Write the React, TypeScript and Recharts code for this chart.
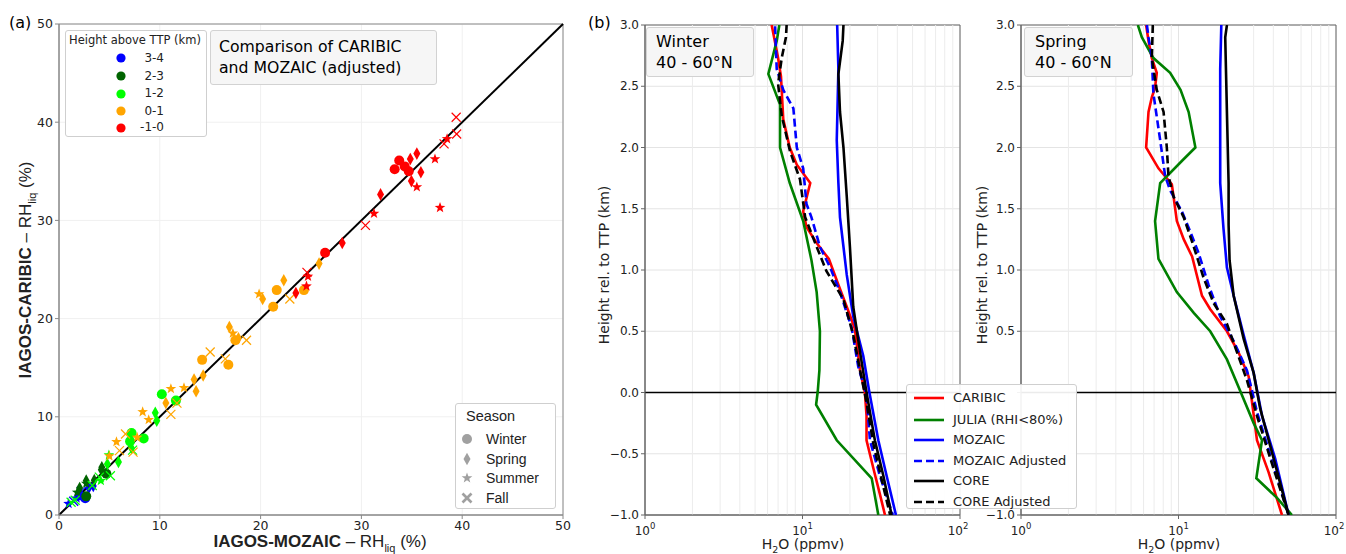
import React from "react";
import {
  ScatterChart,
  Scatter,
  XAxis,
  YAxis,
  CartesianGrid,
  ReferenceLine,
  ReferenceArea,
} from "recharts";

const SANS = "'DejaVu Sans', sans-serif";
const ARIAL = "'Liberation Sans', Arial, sans-serif";

// ---------- panel (a): CARIBIC vs MOZAIC RH_liq ----------
const heightClasses = ["3-4", "2-3", "1-2", "0-1", "-1-0"];
const heightColors = ["#0000ff", "#006400", "#00ff00", "#ffa500", "#ff0000"];
const seasonCodes = ["W", "S", "U", "F"];
const seasonNames = ["Winter", "Spring", "Summer", "Fall"];
const axisTicksA = [0, 10, 20, 30, 40, 50];

// [MOZAIC, CARIBIC, season]
const pts34 = [
  [2.6, 1.7, "W"], [2.05, 2.0, "W"], [3.4, 2.95, "S"], [2.95, 2.75, "S"],
  [1.75, 1.7, "U"], [0.95, 1.15, "U"], [1.45, 1.4, "F"], [2.2, 2.4, "F"],
];
const pts23 = [
  [2.7, 1.9, "W"], [4.7, 4.2, "W"], [4.25, 4.85, "S"], [3.5, 3.55, "S"], [2.7, 3.5, "S"],
  [2.05, 2.75, "S"], [4.2, 4.6, "S"], [2.7, 3.2, "U"], [1.8, 2.3, "U"],
];
const pts12 = [
  [10.2, 12.3, "W"], [7.2, 8.35, "W"], [7.05, 7.5, "W"], [8.4, 7.8, "W"], [11.6, 11.65, "W"],
  [9.55, 10.4, "S"], [7.2, 6.8, "S"], [5.9, 5.4, "S"], [4.8, 5.2, "S"], [9.7, 9.6, "S"],
  [4.95, 6.1, "U"], [4.15, 3.5, "U"],
  [5.1, 4.0, "F"], [4.0, 3.85, "F"], [1.2, 1.3, "F"], [7.3, 6.6, "F"], [1.6, 1.5, "F"], [3.3, 3.0, "F"],
];
const pts01 = [
  [21.6, 22.9, "W"], [21.25, 21.2, "W"], [24.3, 22.9, "W"], [14.2, 15.8, "W"], [16.8, 15.3, "W"], [17.5, 17.8, "W"],
  [22.3, 23.9, "S"], [20.2, 22.0, "S"], [16.9, 19.15, "S"], [25.8, 25.6, "S"], [13.4, 13.8, "S"],
  [13.6, 12.6, "S"], [10.6, 11.4, "S"], [14.3, 14.2, "S"], [17.8, 18.0, "S"],
  [19.85, 22.5, "U"], [17.25, 18.5, "U"], [11.1, 12.85, "U"], [12.4, 12.95, "U"], [8.3, 10.5, "U"],
  [8.9, 9.7, "U"], [5.7, 7.45, "U"], [5.0, 6.0, "U"], [7.75, 7.9, "U"],
  [22.9, 22.0, "F"], [18.6, 17.8, "F"], [15.0, 16.6, "F"], [16.5, 15.9, "F"], [11.1, 10.25, "F"],
  [11.7, 11.4, "F"], [6.6, 8.25, "F"], [7.35, 6.4, "F"], [6.0, 6.55, "F"],
];
const ptsM10 = [
  [33.3, 35.2, "W"], [33.75, 36.1, "W"], [34.3, 35.5, "W"], [34.7, 35.0, "W"], [26.4, 26.7, "W"],
  [34.85, 36.25, "S"], [35.5, 36.8, "S"], [35.9, 34.9, "S"], [34.96, 34.0, "S"], [31.9, 32.65, "S"],
  [28.1, 27.7, "S"], [23.5, 22.6, "S"],
  [37.3, 36.25, "U"], [35.5, 33.4, "U"], [37.8, 31.3, "U"], [31.25, 30.7, "U"], [24.7, 24.3, "U"],
  [24.55, 23.3, "U"], [38.5, 38.3, "U"],
  [39.4, 40.5, "F"], [39.45, 38.8, "F"], [38.2, 37.8, "F"], [30.4, 29.5, "F"], [24.6, 24.7, "F"],
];
const classPoints = [pts34, pts23, pts12, pts01, ptsM10];

// ---------- panel (b): H2O profiles, [ppmv, height rel. to TTP km] ----------
const profileNames = ["CARIBIC", "JULIA (RHI<80%)", "MOZAIC", "MOZAIC Adjusted", "CORE", "CORE Adjusted"];
const profileColors = ["#ff0000", "#008000", "#0000ff", "#0000ff", "#000000", "#000000"];
const profileDashed = [false, false, false, true, false, true];
const heightTicks = [-1, -0.5, 0, 0.5, 1, 1.5, 2, 2.5, 3];
const ppmvTicks = [1, 10, 100];
const ppmvMinor = [2, 3, 4, 5, 6, 7, 8, 9, 20, 30, 40, 50, 60, 70, 80, 90];

const winterCaribic = [
  [6.37, 3.0], [6.6, 2.9], [7.0, 2.73], [7.3, 2.58], [7.55, 2.23], [8.3, 2.0], [9.2, 1.86], [11.2, 1.71],
  [10.1, 1.48], [10.6, 1.35], [12.3, 1.22], [14.7, 1.09], [16.9, 0.88], [19.1, 0.7], [21.5, 0.52],
  [23.2, 0.18], [24.9, 0.0], [25.5, -0.19], [25.5, -0.39], [28.2, -0.62], [31, -0.83], [33.4, -1.0],
];
const winterJulia = [
  [7.13, 3.0], [6.86, 2.87], [6.07, 2.6], [7.2, 2.35], [7.2, 2.0], [8.3, 1.71], [10.1, 1.4], [11.4, 1.08],
  [12.3, 0.82], [12.9, 0.5], [12.8, 0.18], [12.5, 0.01], [12.2, -0.1], [16.5, -0.39], [27.5, -0.7], [30.3, -1.0],
];
const winterMozaic = [
  [16.6, 3.0], [16.9, 2.64], [16.5, 2.06], [16.9, 1.71], [17.3, 1.43], [18.2, 1.19], [19.1, 0.96],
  [21.0, 0.62], [24.3, 0.3], [26.6, 0.0], [30.3, -0.39], [34.2, -0.68], [39.2, -1.0],
];
const winterMozaicAdj = [
  [6.7, 2.99], [6.86, 2.64], [7.55, 2.47], [8.75, 2.32], [9.2, 2.0], [10.1, 1.83], [10.6, 1.54], [11.4, 1.43],
  [12.9, 1.19], [15.0, 1.02], [17.3, 0.82], [20.5, 0.53], [22.6, 0.21], [25.5, -0.02], [26.8, -0.39],
  [31, -0.68], [36.8, -0.97], [37.5, -1.0],
];
const winterCore = [
  [18.2, 3.0], [18.0, 2.87], [16.9, 2.6], [17.3, 2.29], [18.2, 2.0], [19.1, 1.6], [20.0, 1.19], [21.0, 0.7],
  [23.2, 0.33], [25.5, 0.0], [28.8, -0.39], [32.6, -0.68], [36.8, -1.0],
];
const winterCoreAdj = [
  [7.93, 3.0], [7.85, 2.9], [7.38, 2.73], [7.0, 2.52], [7.38, 2.26], [8.33, 1.97], [9.64, 1.74], [10.4, 1.43],
  [12.3, 1.19], [14.2, 0.99], [18.2, 0.76], [21.0, 0.47], [23.2, 0.18], [25.5, -0.08], [28.2, -0.42],
  [31.8, -0.71], [36, -1.0],
];

const springCaribic = [
  [6.23, 3.0], [6.45, 2.87], [6.77, 2.73], [7.28, 2.61], [7.1, 2.49], [6.77, 2.41], [6.45, 2.29], [6.23, 2.0],
  [7.46, 1.83], [9.07, 1.7], [9.3, 1.6], [9.76, 1.4], [10.8, 1.25], [12.2, 1.11], [14.1, 0.79], [15.9, 0.68],
  [20.3, 0.5], [24, 0.33], [27.9, 0.13], [31.5, -0.39], [37.3, -0.65], [45.4, -1.0],
];
const springJulia = [
  [5.52, 3.0], [5.85, 2.9], [6.93, 2.73], [8.85, 2.61], [10.3, 2.47], [11.6, 2.29], [12.8, 2.0], [10.5, 1.89],
  [7.65, 1.71], [7.1, 1.4], [7.46, 1.09], [9.76, 0.82], [12.5, 0.65], [15.9, 0.5], [20.3, 0.27], [24.7, 0.01],
  [30, -0.25], [33.9, -0.39], [31.2, -0.7], [42.2, -0.86], [52.5, -1.0],
];
const springMozaic = [
  [18.7, 3.0], [18.4, 2.64], [18.4, 1.71], [19.3, 1.34], [20.3, 1.02], [22.4, 0.79], [25.9, 0.47],
  [30, 0.16], [33.9, -0.19], [41.1, -0.54], [50, -1.0],
];
const springMozaicAdj = [
  [6.3, 3.0], [6.45, 2.9], [6.77, 2.73], [6.93, 2.44], [7.65, 2.06], [8.22, 1.77], [8.85, 1.65], [10.5, 1.48],
  [11.9, 1.31], [13.4, 1.14], [15.5, 0.88], [18.4, 0.62], [22.4, 0.42], [27.2, 0.18], [28.6, 0.07],
  [31.5, -0.16], [36.4, -0.42], [50, -1.0],
];
const springCore = [
  [20.3, 3.0], [19.8, 2.9], [20.3, 2.29], [20.8, 1.71], [20.8, 1.37], [21.1, 1.08], [22.4, 0.79], [25.9, 0.44],
  [30, 0.16], [33, -0.13], [40.2, -0.54], [50, -1.0],
];
const springCoreAdj = [
  [6.87, 3.0], [6.77, 2.73], [7.28, 2.47], [8.04, 2.29], [8.43, 2.0], [8.63, 1.77], [9.3, 1.6], [10.8, 1.43],
  [12.5, 1.19], [14.4, 0.94], [16.7, 0.73], [20.3, 0.56], [23.5, 0.33], [27.2, 0.1], [31.5, -0.19],
  [38.3, -0.54], [50, -1.0],
];

const winterProfiles = [winterCaribic, winterJulia, winterMozaic, winterMozaicAdj, winterCore, winterCoreAdj];
const springProfiles = [springCaribic, springJulia, springMozaic, springMozaicAdj, springCore, springCoreAdj];

// marker shapes like matplotlib o, d, *, x
function Marker({ cx, cy, s, color, bold }: any) {
  if (s === "W") return <circle cx={cx} cy={cy} r={5} fill={color} />;
  if (s === "S")
    return (
      <polygon
        points={`${cx},${cy - 6.3} ${cx + 3.5},${cy} ${cx},${cy + 6.3} ${cx - 3.5},${cy}`}
        fill={color}
      />
    );
  if (s === "U") {
    const p: string[] = [];
    for (let i = 0; i < 10; i++) {
      const r = i % 2 === 0 ? 5.6 : 2.3;
      const a = -Math.PI / 2 + (i * Math.PI) / 5;
      p.push(`${cx + r * Math.cos(a)},${cy + r * Math.sin(a)}`);
    }
    return <polygon points={p.join(" ")} fill={color} />;
  }
  const d = 4.5;
  return (
    <g stroke={color} strokeWidth={bold ? 2.6 : 1.2}>
      <line x1={cx - d} y1={cy - d} x2={cx + d} y2={cy + d} />
      <line x1={cx - d} y1={cy + d} x2={cx + d} y2={cy - d} />
    </g>
  );
}

const fmtH = (v: number) => v.toFixed(1).replace("-", "\u2212");

function LogTick({ x, y, payload }: any) {
  const exp = Math.round(Math.log10(payload.value));
  return (
    <text x={x} y={y + 14} textAnchor="middle" fontSize={12} fill="#222" fontFamily={SANS}>
      10
      <tspan dy={-6} fontSize={8.5}>
        {exp}
      </tspan>
    </text>
  );
}

// spring axis labels under the legend box are hidden in the original
function HeightTick({ x, y, payload, hidden }: any) {
  if (hidden && hidden.includes(payload.value)) return <g />;
  return (
    <text x={x} y={y} dy={4} textAnchor="end" fontSize={12} fill="#222" fontFamily={SANS}>
      {fmtH(payload.value)}
    </text>
  );
}

function ScatterPanel() {
  return (
    <ScatterChart width={580} height={554} margin={{ top: 24, right: 17, left: 19, bottom: 14 }}>
      <CartesianGrid stroke="#f0f0f0" />
      <XAxis
        type="number"
        dataKey="x"
        domain={[0, 50]}
        ticks={axisTicksA}
        height={25}
        tickSize={4}
        tick={{ fill: "#222", fontSize: 12.5, fontFamily: SANS }}
        stroke="#888"
        allowDataOverflow
      />
      <YAxis
        type="number"
        dataKey="y"
        domain={[0, 50]}
        ticks={axisTicksA}
        width={40}
        tickSize={4}
        tick={{ fill: "#222", fontSize: 12.5, fontFamily: SANS }}
        stroke="#888"
        allowDataOverflow
      />
      <ReferenceArea x1={0} x2={50} y1={0} y2={50} fill="none" stroke="#888" strokeWidth={1} />
      <ReferenceLine
        segment={[
          { x: 0, y: 0 },
          { x: 50, y: 50 },
        ]}
        stroke="#000"
        strokeWidth={2}
      />
      {classPoints.map((pts, ci) =>
        seasonCodes.map((sc) => (
          <Scatter
            key={`${ci}-${sc}`}
            data={pts.filter((p) => p[2] === sc).map((p) => ({ x: p[0], y: p[1] }))}
            isAnimationActive={false}
            shape={(props: any) => <Marker cx={props.cx} cy={props.cy} s={sc} color={heightColors[ci]} />}
          />
        ))
      )}
    </ScatterChart>
  );
}

function ProfilePanel({ profiles, hidden }: { profiles: number[][][]; hidden?: number[] }) {
  return (
    <ScatterChart width={380} height={554} margin={{ top: 25, right: 10, left: 15, bottom: 14 }}>
      <CartesianGrid stroke="#e4e4e4" />
      {ppmvMinor.map((m) => (
        <ReferenceLine key={m} x={m} stroke="#ececec" strokeWidth={1} />
      ))}
      <XAxis
        type="number"
        dataKey="x"
        scale="log"
        domain={[1, 100]}
        ticks={ppmvTicks}
        height={25}
        tickSize={4}
        tick={<LogTick />}
        stroke="#666"
        allowDataOverflow
      />
      <YAxis
        type="number"
        dataKey="y"
        domain={[-1, 3]}
        ticks={heightTicks}
        width={40}
        tickSize={4}
        tick={<HeightTick hidden={hidden} />}
        stroke="#666"
        allowDataOverflow
      />
      <ReferenceArea x1={1} x2={100} y1={-1} y2={3} fill="none" stroke="#666" strokeWidth={1} />
      <ReferenceLine y={0} stroke="#000" strokeWidth={1.6} />
      {profiles.map((prof, i) => (
        <Scatter
          key={i}
          data={prof.map((p) => ({ x: p[0], y: p[1] }))}
          isAnimationActive={false}
          line={{
            stroke: profileColors[i],
            strokeWidth: 2.6,
            strokeDasharray: profileDashed[i] ? "8 4" : undefined,
            fill: "none",
          }}
          lineType="joint"
          shape={() => <g />}
        />
      ))}
    </ScatterChart>
  );
}

const boxStyle: React.CSSProperties = {
  position: "absolute",
  background: "rgba(255,255,255,0.92)",
  border: "1px solid #cfcfcf",
  borderRadius: 3,
  boxSizing: "border-box",
};
const annoStyle: React.CSSProperties = {
  ...boxStyle,
  background: "#f6f6f6",
  border: "1px solid #d2d2d2",
  fontFamily: SANS,
  color: "#000",
};

function Abs({ x, y, children, style }: any) {
  return (
    <div style={{ position: "absolute", left: x, top: y, whiteSpace: "nowrap", lineHeight: 1, ...style }}>
      {children}
    </div>
  );
}

const heightRows = [27, 45, 62.5, 80, 96.5];
const seasonRows = [35, 54.6, 74, 93.5];
const profileRows = [13, 35, 55, 76, 96, 116.5];

export default function App() {
  return (
    <div style={{ position: "absolute", left: 0, top: 0, width: 1346, height: 554, background: "#fff", overflow: "hidden" }}>
      <div style={{ position: "absolute", left: 0, top: 0 }}>
        <ScatterPanel />
      </div>
      <div style={{ position: "absolute", left: 590, top: 0 }}>
        <ProfilePanel profiles={winterProfiles} />
      </div>
      <div style={{ position: "absolute", left: 966, top: 0 }}>
        <ProfilePanel profiles={springProfiles} hidden={[0, -0.5]} />
      </div>

      {/* texts: panel letters and axis titles */}
      <svg width={1346} height={554} style={{ position: "absolute", left: 0, top: 0, pointerEvents: "none" }}>
        <text x={9} y={28} fontSize={16} fontFamily={SANS}>(a)</text>
        <text x={588} y={28} fontSize={16} fontFamily={SANS}>(b)</text>
        <text x={320} y={547} textAnchor="middle" fontSize={17} fontFamily={ARIAL} fill="#222">
          <tspan fontWeight="bold">IAGOS-MOZAIC</tspan> – RH
          <tspan dy={5} fontSize={11}>liq</tspan>
          <tspan dy={-5}> (%)</tspan>
        </text>
        <text
          transform="translate(31,270) rotate(-90)"
          textAnchor="middle"
          fontSize={17}
          fontFamily={ARIAL}
          fill="#222"
        >
          <tspan fontWeight="bold">IAGOS-CARIBIC</tspan> – RH
          <tspan dy={5} fontSize={11}>liq</tspan>
          <tspan dy={-5}> (%)</tspan>
        </text>
        {[609, 987].map((x) => (
          <text key={x} transform={`translate(${x},265) rotate(-90)`} textAnchor="middle" fontSize={14} fontFamily={SANS} fill="#222">
            Height rel. to TTP (km)
          </text>
        ))}
        {[803, 1179].map((x) => (
          <text key={x} x={x} y={549} textAnchor="middle" fontSize={14} fontFamily={SANS} fill="#222">
            H<tspan dy={4} fontSize={9.5}>2</tspan>
            <tspan dy={-4}>O (ppmv)</tspan>
          </text>
        ))}
      </svg>

      {/* height legend */}
      <div style={{ ...boxStyle, left: 65, top: 30, width: 142, height: 107, fontFamily: SANS, color: "#222" }}>
        <Abs x={3} y={3.5} style={{ fontSize: 11.5 }}>Height above TTP (km)</Abs>
        {heightClasses.map((h, i) => (
          <React.Fragment key={h}>
            <svg width={14} height={14} style={{ position: "absolute", left: 48, top: heightRows[i] - 7 }}>
              <circle cx={7} cy={7} r={4.6} fill={heightColors[i]} />
            </svg>
            <Abs x={58} y={heightRows[i] - 6.5} style={{ fontSize: 12, width: 40, textAlign: "right" }}>
              {h}
            </Abs>
          </React.Fragment>
        ))}
      </div>

      {/* comparison annotation */}
      <div style={{ ...annoStyle, left: 210, top: 30, width: 227, height: 55, fontSize: 15.7 }}>
        <Abs x={8} y={8}>Comparison of CARIBIC</Abs>
        <Abs x={8} y={28.5}>and MOZAIC (adjusted)</Abs>
      </div>

      {/* season legend */}
      <div style={{ ...boxStyle, left: 455, top: 403, width: 101, height: 106, fontFamily: ARIAL, color: "#222" }}>
        <Abs x={10} y={5} style={{ fontSize: 14.5 }}>Season</Abs>
        {seasonNames.map((n, i) => (
          <React.Fragment key={n}>
            <svg width={16} height={16} style={{ position: "absolute", left: 2.5, top: seasonRows[i] - 8 }}>
              <Marker cx={8} cy={8} s={seasonCodes[i]} color="#a0a0a0" bold />
            </svg>
            <Abs x={30} y={seasonRows[i] - 7} style={{ fontSize: 14 }}>
              {n}
            </Abs>
          </React.Fragment>
        ))}
      </div>

      {/* winter / spring annotations */}
      <div style={{ ...annoStyle, left: 646, top: 27, width: 108, height: 50, fontSize: 16 }}>
        <Abs x={9} y={6}>Winter</Abs>
        <Abs x={9} y={27}>40 - 60°N</Abs>
      </div>
      <div style={{ ...annoStyle, left: 1024, top: 27, width: 109, height: 50, fontSize: 16 }}>
        <Abs x={10} y={6}>Spring</Abs>
        <Abs x={10} y={27}>40 - 60°N</Abs>
      </div>

      {/* profile legend */}
      <div style={{ ...boxStyle, left: 906, top: 384, width: 171, height: 125, fontFamily: SANS, color: "#222" }}>
        {profileNames.map((n, i) => {
          const cy = profileRows[i];
          return (
            <React.Fragment key={n}>
              <svg width={34} height={6} style={{ position: "absolute", left: 6, top: cy - 3 }}>
                <line
                  x1={1}
                  y1={3}
                  x2={31}
                  y2={3}
                  stroke={profileColors[i]}
                  strokeWidth={2.6}
                  strokeDasharray={profileDashed[i] ? "8 4" : undefined}
                />
              </svg>
              <Abs x={46} y={cy - 7} style={{ fontSize: 13 }}>
                {n}
              </Abs>
            </React.Fragment>
          );
        })}
      </div>
    </div>
  );
}
